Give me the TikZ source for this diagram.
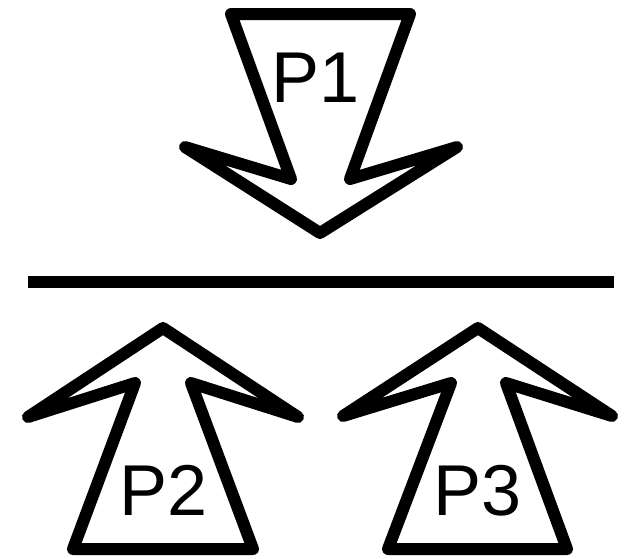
\documentclass[tikz,border=0pt]{standalone}
\usepackage{fontspec}
\setmainfont{Liberation Sans}
\begin{document}
\begin{tikzpicture}[x=1pt,y=-1pt,
  arrowshape/.style={draw=black,line width=12pt,line join=round,fill=white},
  barline/.style={draw=black,line width=12.5pt,line cap=butt},
  lbl/.style={anchor=base,inner sep=0pt,font=\fontsize{72}{72}\selectfont}]
\useasboundingbox (0,0) rectangle (624,558);
% P1 arrow (down)
\draw[arrowshape] (231,14) -- (410,14) -- (350,179) -- (457,147) -- (320,233) -- (185,147) -- (291,179) -- cycle;
% bar
\coordinate (barL) at (28,282);
\coordinate (barR) at (614,282);
\draw[barline] (barL) -- (barR);
% P2 arrow (up)
\draw[arrowshape] (163,328) -- (298,417) -- (191,383) -- (253,549) -- (73,549) -- (135,383) -- (28,417) -- cycle;
% P3 arrow (up)
\draw[arrowshape] (478,328) -- (612,416) -- (506,383) -- (567,549) -- (388,549) -- (451,383) -- (343,416) -- cycle;
% labels
\node[lbl] (p1) at (316,102) {P1};
\node[lbl] (p2) at (164,515) {P2};
\node[lbl] (p3) at (478,515) {P3};
\end{tikzpicture}
\end{document}
